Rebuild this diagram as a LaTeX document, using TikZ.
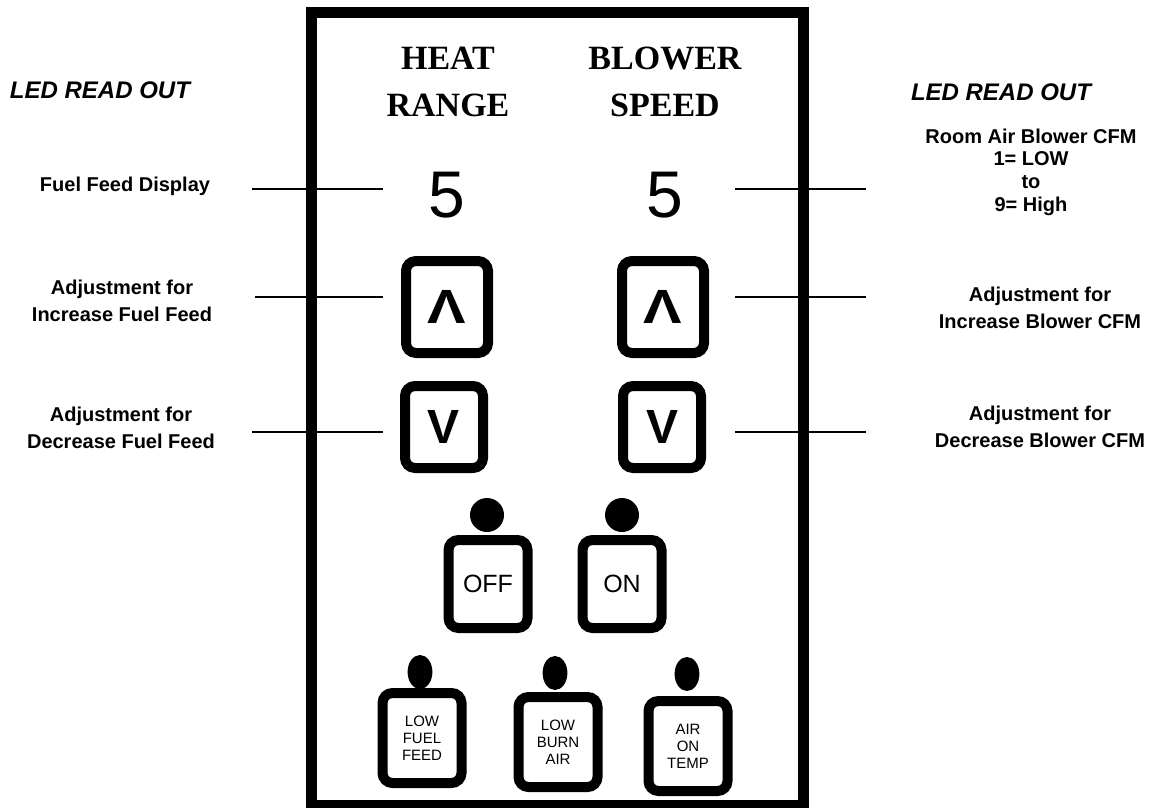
\documentclass[tikz,border=0pt]{standalone}
\usepackage{fontspec}
\setmainfont{Liberation Sans}
\newfontfamily\hdrfont{Liberation Serif}
\usepackage{tikz}
\usetikzlibrary{positioning,calc}

\begin{document}
\begin{tikzpicture}[
  x=0.5pt, y=-0.5pt,
  font=\rmfamily,
  lbl/.style   = {font=\fontsize{10}{13.5}\selectfont\bfseries, align=center, inner sep=0pt},
  ledlbl/.style= {font=\fontsize{12}{14}\selectfont\bfseries\itshape, inner sep=0pt},
  hdr/.style   = {font=\hdrfont\fontsize{17}{23.5}\selectfont\bfseries, align=center, inner sep=0pt},
  digit/.style = {font=\fontsize{33}{36}\selectfont, inner sep=0pt},
  key/.style   = {draw, line width=5pt, rounded corners=5pt, inner sep=0pt,
                  minimum width=41pt, minimum height=46pt},
  smallkey/.style = {key, minimum width=39pt, minimum height=41pt},
  arw/.style   = {font=\fontsize{24}{24}\selectfont\bfseries},
  sw/.style    = {font=\fontsize{12.5}{14}\selectfont},
  tiny/.style  = {font=\fontsize{7.5}{8.5}\selectfont, align=center},
  leader/.style= {line width=1.2pt},
  lamp/.style  = {fill=black},
]

\useasboundingbox (0,0) rectangle (1157,808);

\def\yDisp{189}
\def\yUp{297}
\def\yDn{432}

% panel
\draw[line width=5.5pt] (311,13) rectangle (803,805);

\node[hdr] (heat)   at (448,82) {HEAT\\RANGE};
\node[hdr] (blower) at (665,82) {BLOWER\\SPEED};

\node[digit] (dispL) at (447,195) {5};
\node[digit] (dispR) at (665,195) {5};

\node[key, arw] (upL) at (447,307) {\scalebox{1.2}[1]{Λ}};
\node[key, arw] (upR) at (663,307) {\scalebox{1.2}[1]{Λ}};
\node[smallkey, arw] (dnL) at (444,427) {V};
\node[smallkey, arw] (dnR) at (662,427) {V};

\node[key, sw, minimum width=39.5pt, minimum height=44pt] (off) at (488,584) {OFF};
\node[key, sw, minimum width=39.5pt, minimum height=44pt] (on)  at (622,584) {ON};
\fill[lamp] (487,515) circle (8.5pt);
\fill[lamp] (622,515) circle (8.5pt);

\node[key, tiny, minimum width=39.5pt, minimum height=45pt] (lowfuel) at (422,738) {LOW\\FUEL\\FEED};
\node[key, tiny, minimum width=39.5pt, minimum height=45pt] (lowburn) at (558,742) {LOW\\BURN\\AIR};
\node[key, tiny, minimum width=39.5pt, minimum height=45pt] (airtemp) at (688,746) {AIR\\ON\\TEMP};
\fill[lamp] (420,672) ellipse (6.2pt and 8.5pt);
\fill[lamp] (555,673) ellipse (6.2pt and 8.5pt);
\fill[lamp] (687,674) ellipse (6.2pt and 8.5pt);

% left side
\node[ledlbl] (ledL) at (100,90) {LED READ OUT};
\node[lbl] (fuelDisp) at (125,186) {Fuel Feed Display};
\node[lbl] (fuelUp)   at (122,301) {Adjustment for\\Increase Fuel Feed};
\node[lbl] (fuelDn)   at (121,428) {Adjustment for\\Decrease Fuel Feed};

% right side
\node[ledlbl] (ledR) at (1001,92) {LED READ OUT};
\node[lbl, font=\fontsize{10}{11.3}\selectfont\bfseries] (blowDisp) at (1031,172) {Room Air Blower CFM\\1= LOW\\to\\9= High};
\node[lbl] (blowUp)   at (1040,308) {Adjustment for\\Increase Blower CFM};
\node[lbl] (blowDn)   at (1040,427) {Adjustment for\\Decrease Blower CFM};

\coordinate (aL) at (252,\yDisp); \coordinate (aR) at (383,\yDisp);
\coordinate (bL) at (255,\yUp);   \coordinate (bR) at (383,\yUp);
\coordinate (cL) at (252,\yDn);   \coordinate (cR) at (383,\yDn);
\coordinate (dL) at (735,\yDisp); \coordinate (dR) at (866,\yDisp);
\coordinate (eL) at (735,\yUp);   \coordinate (eR) at (866,\yUp);
\coordinate (fL) at (735,\yDn);   \coordinate (fR) at (866,\yDn);

\draw[leader] (aL) -- (aR);
\draw[leader] (bL) -- (bR);
\draw[leader] (cL) -- (cR);
\draw[leader] (dL) -- (dR);
\draw[leader] (eL) -- (eR);
\draw[leader] (fL) -- (fR);

\end{tikzpicture}
\end{document}
